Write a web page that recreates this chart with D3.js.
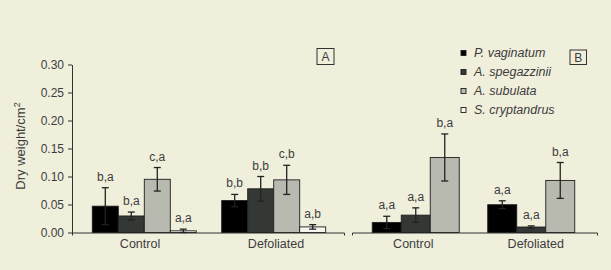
<!DOCTYPE html>
<html>
<head>
<meta charset="utf-8">
<script src="https://cdn.jsdelivr.net/npm/d3@7/dist/d3.min.js"></script>
<style>
  html, body { margin: 0; padding: 0; background: #f0efdc; }
  svg { display: block; }
  text { font-family: "Liberation Sans", Arial, sans-serif; fill: #3c3c3c; }
</style>
</head>
<body>
<div id="chart"></div>
<script>
// ---------- DATA ----------
const categories = ["Control", "Defoliated"];
const seriesNames = ["P. vaginatum", "A. spegazzinii", "A. subulata", "S. cryptandrus"];

// Panel A (values, errors, letters) — one array per series
const pvA      = [0.047, 0.057];
const pvAErr   = [0.033, 0.011];
const pvALab   = ["b,a", "b,b"];
const asA      = [0.0295, 0.078];
const asAErr   = [0.007, 0.022];
const asALab   = ["b,a", "b,b"];
const asubA    = [0.095, 0.094];
const asubAErr = [0.021, 0.026];
const asubALab = ["c,a", "c,b"];
const scA      = [0.003, 0.010];
const scAErr   = [0.003, 0.004];
const scALab   = ["a,a", "a,b"];

// Panel B (S. cryptandrus absent)
const pvB      = [0.018, 0.0496];
const pvBErr   = [0.011, 0.007];
const pvBLab   = ["a,a", "a,a"];
const asB      = [0.031, 0.0098];
const asBErr   = [0.013, 0.002];
const asBLab   = ["a,a", "a,a"];
const asubB    = [0.134, 0.093];
const asubBErr = [0.042, 0.032];
const asubBLab = ["b,a", "b,a"];

const yTicks = [0, 0.05, 0.10, 0.15, 0.20, 0.25, 0.30];
const panelLabels = ["A", "B"];

// ---------- STYLE ----------
const W = 611, H = 270;
const colors = {
  "P. vaginatum": "#000000",
  "A. spegazzinii": "#343834",
  "A. subulata": "#b8bab0",
  "S. cryptandrus": "#f6f5ee"
};

const svg = d3.select("#chart").append("svg").attr("width", W).attr("height", H);
svg.append("rect").attr("width", W).attr("height", H).attr("fill", "#f0efdc");

const y = d3.scaleLinear().domain([0, 0.30]).range([232.5, 64.5]);

// Y axis (panel A only)
const yAxis = svg.append("g").attr("transform", "translate(72,0)")
  .call(d3.axisLeft(y).tickValues(yTicks).tickFormat(d3.format(".2f"))
    .tickSize(4).tickSizeOuter(0).tickPadding(4));
yAxis.select(".domain").attr("stroke", "#333");
yAxis.selectAll(".tick line").attr("stroke", "#333");
yAxis.selectAll("text").style("font-size", "12px").attr("fill", "#3c3c3c")
  .style("font-family", "'Liberation Sans', Arial, sans-serif");

// Y axis title
const yt = svg.append("text")
  .attr("transform", "translate(25,146) rotate(-90)")
  .attr("text-anchor", "middle")
  .style("font-size", "13px");
yt.append("tspan").text("Dry weight/cm");
yt.append("tspan").text("2").attr("dy", -5).style("font-size", "9px");

function drawPanel(p) {
  const g = svg.append("g");
  const xAxisScale = d3.scaleBand().domain(categories).range(p.axisRange);
  const xGroup = d3.scaleBand().domain(categories).range(p.groupRange);
  const names = p.series.map(s => s.name);
  const groupW = p.barW * names.length;
  const xBar = d3.scaleBand().domain(names).range([0, groupW]);

  // axis
  const ax = g.append("g").attr("transform", `translate(0,${y(0)})`)
    .call(d3.axisBottom(xAxisScale).tickSize(0).tickSizeOuter(3).tickPadding(6.5));
  ax.select(".domain").attr("stroke", "#333");
  ax.selectAll("text").style("font-size", "12.5px").attr("fill", "#3c3c3c")
    .style("font-family", "'Liberation Sans', Arial, sans-serif");

  const rows = [];
  p.series.forEach(s => {
    categories.forEach((c, i) => {
      rows.push({ name: s.name, cat: c, v: s.values[i], e: s.errs[i], lab: s.labels[i] });
    });
  });
  const bx = d => xGroup(d.cat) + (xGroup.bandwidth() - groupW) / 2 + xBar(d.name);

  g.selectAll("rect.bar").data(rows).join("rect")
    .attr("class", "bar")
    .attr("x", bx)
    .attr("y", d => y(d.v))
    .attr("width", xBar.bandwidth())
    .attr("height", d => y(0) - y(d.v))
    .attr("fill", d => colors[d.name])
    .attr("stroke", "#1e1e1e")
    .attr("stroke-width", 0.9);

  const eb = g.selectAll("g.err").data(rows).join("g").attr("class", "err")
    .attr("stroke", "#222").attr("stroke-width", 1.3);
  const cx = d => bx(d) + xBar.bandwidth() / 2;
  eb.append("line").attr("x1", cx).attr("x2", cx)
    .attr("y1", d => y(d.v + d.e)).attr("y2", d => y(Math.max(0, d.v - d.e)));
  eb.append("line").attr("x1", d => cx(d) - 3.5).attr("x2", d => cx(d) + 3.5)
    .attr("y1", d => y(d.v + d.e)).attr("y2", d => y(d.v + d.e));
  eb.append("line").attr("x1", d => cx(d) - 3.5).attr("x2", d => cx(d) + 3.5)
    .attr("y1", d => y(Math.max(0, d.v - d.e))).attr("y2", d => y(Math.max(0, d.v - d.e)));

  g.selectAll("text.lab").data(rows).join("text")
    .attr("class", "lab")
    .attr("x", cx)
    .attr("y", d => y(d.v + d.e) - 7)
    .attr("text-anchor", "middle")
    .style("font-size", "12px")
    .text(d => d.lab);

  // panel letter box
  g.append("rect").attr("x", p.box[0]).attr("y", p.box[1]).attr("width", p.box[2]).attr("height", p.box[3])
    .attr("fill", "none").attr("stroke", "#333").attr("stroke-width", 1);
  g.append("text").attr("x", p.box[0] + p.box[2] / 2).attr("y", p.box[1] + p.box[3] / 2 + 4.5)
    .attr("text-anchor", "middle").style("font-size", "12px").text(p.letter);
}

drawPanel({
  axisRange: [72, 344],
  groupRange: [79.6, 338.4],
  barW: 26,
  box: [317, 48.5, 17, 16],
  letter: panelLabels[0],
  series: [
    { name: seriesNames[0], values: pvA, errs: pvAErr, labels: pvALab },
    { name: seriesNames[1], values: asA, errs: asAErr, labels: asALab },
    { name: seriesNames[2], values: asubA, errs: asubAErr, labels: asubALab },
    { name: seriesNames[3], values: scA, errs: scAErr, labels: scALab }
  ]
});

drawPanel({
  axisRange: [352, 597],
  groupRange: [358, 589],
  barW: 29,
  box: [570, 50, 16.5, 14.5],
  letter: panelLabels[1],
  series: [
    { name: seriesNames[0], values: pvB, errs: pvBErr, labels: pvBLab },
    { name: seriesNames[1], values: asB, errs: asBErr, labels: asBLab },
    { name: seriesNames[2], values: asubB, errs: asubBErr, labels: asubBLab }
  ]
});

// Legend
const leg = svg.append("g").selectAll("g").data(seriesNames).join("g")
  .attr("transform", (d, i) => `translate(461,${53 + i * 19})`);
leg.append("rect").attr("x", 0).attr("y", -2.5).attr("width", 5).attr("height", 5)
  .attr("fill", d => colors[d]).attr("stroke", "#1e1e1e").attr("stroke-width", 0.9);
leg.append("text").attr("x", 13).attr("y", 4)
  .style("font-size", "12.5px").style("font-style", "italic").text(d => d);
</script>
</body>
</html>
